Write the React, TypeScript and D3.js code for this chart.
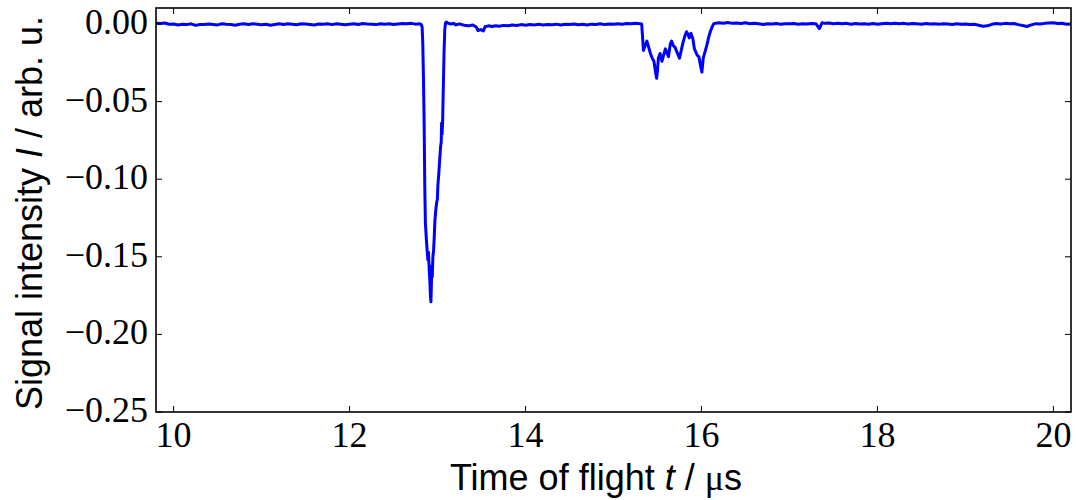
import React from 'react';
import * as d3 from 'd3';

type Pt = [number, number];

// Time of flight (µs), signal intensity (arb. u.)
const baselineBefore: Pt[] = [
  [9.80, 0.0005],[9.85, 0.0003],[9.90, 0.0006],[9.95, -0.0002],[10.00, 0.0000],[10.05, -0.0006],[10.10, -0.0002],[10.15, -0.0004],
  [10.20, 0.0001],[10.25, -0.0009],[10.30, -0.0003],[10.35, -0.0004],[10.40, 0.0000],[10.45, -0.0003],[10.50, -0.0006],[10.55, 0.0001],
  [10.60, -0.0002],[10.65, -0.0004],[10.70, -0.0008],[10.75, -0.0002],[10.80, 0.0001],[10.85, -0.0003],[10.90, 0.0002],[10.95, -0.0001],
  [11.00, -0.0005],[11.05, -0.0002],[11.10, -0.0008],[11.15, -0.0003],[11.20, 0.0002],[11.25, -0.0003],[11.30, 0.0001],[11.35, -0.0002],
  [11.40, -0.0005],[11.45, 0.0002],[11.50, 0.0000],[11.55, -0.0003],[11.60, -0.0007],[11.65, 0.0000],[11.70, -0.0002],[11.75, 0.0001],
  [11.80, -0.0004],[11.85, 0.0002],[11.90, -0.0001],[11.95, -0.0005],[12.00, -0.0002],[12.05, 0.0001],[12.10, -0.0003],[12.15, 0.0003],
  [12.20, 0.0000],[12.25, -0.0002],[12.30, -0.0004],[12.35, 0.0001],[12.40, -0.0001],[12.45, 0.0002],[12.50, -0.0003],[12.55, 0.0000],
  [12.60, 0.0003],[12.65, 0.0001],[12.70, 0.0004],[12.75, -0.0001],[12.80, 0.0002],
];

const mainPeak: Pt[] = [
  [12.815, -0.0003],[12.825, -0.002],[12.832, -0.012],[12.84, -0.035],[12.848, -0.065],[12.855, -0.105],[12.862, -0.128],
  [12.872, -0.138],[12.882, -0.146],[12.89, -0.152],[12.897, -0.147],[12.905, -0.158],[12.913, -0.166],[12.92, -0.176],
  [12.925, -0.179],[12.93, -0.168],[12.935, -0.156],[12.94, -0.163],[12.947, -0.150],[12.955, -0.146],[12.962, -0.138],
  [12.97, -0.127],[12.98, -0.120],[12.99, -0.115],[12.998, -0.113],[13.004, -0.104],[13.015, -0.096],[13.025, -0.087],
  [13.035, -0.079],[13.042, -0.076],[13.046, -0.064],[13.052, -0.071],[13.058, -0.062],[13.066, -0.040],[13.074, -0.018],
  [13.082, -0.004],[13.09, 0.0006],[13.10, 0.0012],
];

const betweenPeaks: Pt[] = [
  [13.12, 0.0006],[13.15, 0.0000],[13.18, 0.0004],[13.21, -0.0006],[13.25, 0.0001],[13.30, -0.0008],[13.35, -0.0012],[13.40, -0.0006],
  [13.44, -0.0020],[13.46, -0.0042],[13.49, -0.0036],[13.52, -0.0044],[13.54, -0.0018],[13.58, -0.0012],[13.62, -0.0016],[13.66, -0.0011],
  [13.70, -0.0014],[13.75, -0.0009],[13.80, -0.0012],[13.85, -0.0007],[13.90, -0.0010],[13.95, -0.0004],[14.00, -0.0008],[14.05, -0.0003],
  [14.10, -0.0006],[14.15, -0.0002],[14.20, -0.0007],[14.25, -0.0003],[14.30, -0.0005],[14.35, -0.0001],[14.40, -0.0006],[14.45, -0.0002],
  [14.50, -0.0004],[14.55, 0.0000],[14.60, -0.0005],[14.65, -0.0002],[14.70, -0.0006],[14.75, -0.0001],[14.80, -0.0003],[14.85, 0.0001],
  [14.90, -0.0004],[14.95, 0.0000],[15.00, -0.0002],[15.05, 0.0002],[15.10, -0.0001],[15.15, 0.0003],[15.20, 0.0001],[15.25, 0.0004],
  [15.30, 0.0002],
];

const secondPeak: Pt[] = [
  [15.32, 0.0000],[15.33, -0.008],[15.34, -0.017],[15.36, -0.014],[15.38, -0.011],[15.40, -0.015],[15.42, -0.019],[15.44, -0.022],
  [15.46, -0.024],[15.475, -0.030],[15.49, -0.035],[15.50, -0.030],[15.51, -0.022],[15.53, -0.019],[15.55, -0.024],[15.57, -0.020],
  [15.59, -0.016],[15.61, -0.019],[15.625, -0.021],[15.645, -0.013],[15.66, -0.011],[15.68, -0.014],[15.70, -0.015],[15.72, -0.018],
  [15.75, -0.022],[15.77, -0.017],[15.79, -0.012],[15.81, -0.008],[15.83, -0.005],[15.85, -0.007],[15.86, -0.009],[15.88, -0.006],
  [15.90, -0.009],[15.92, -0.016],[15.95, -0.020],[15.97, -0.021],[15.99, -0.027],[16.005, -0.031],[16.02, -0.022],[16.04, -0.018],
  [16.06, -0.014],[16.08, -0.009],[16.10, -0.005],[16.12, -0.002],[16.14, 0.0002],[16.16, 0.0005],
];

const baselineAfter: Pt[] = [
  [16.20, 0.0008],[16.25, 0.0005],[16.30, 0.0009],[16.35, 0.0004],[16.40, 0.0007],[16.45, 0.0003],[16.50, 0.0008],[16.55, 0.0002],
  [16.60, 0.0005],[16.65, 0.0001],[16.70, -0.0003],[16.75, 0.0002],[16.80, 0.0000],[16.85, 0.0003],[16.90, -0.0001],[16.95, 0.0002],
  [17.00, 0.0001],[17.05, 0.0003],[17.10, -0.0001],[17.15, 0.0002],[17.20, 0.0000],[17.25, 0.0003],[17.30, 0.0002],[17.34, -0.0030],
  [17.37, 0.0008],[17.40, 0.0004],[17.45, 0.0006],[17.50, 0.0002],[17.55, 0.0005],[17.60, 0.0001],[17.65, 0.0004],[17.70, -0.0002],
  [17.75, 0.0003],[17.80, 0.0000],[17.85, 0.0002],[17.90, -0.0001],[17.95, 0.0003],[18.00, -0.0002],[18.05, 0.0002],[18.10, 0.0004],
  [18.15, 0.0001],[18.20, 0.0005],[18.25, 0.0002],[18.30, 0.0004],[18.35, 0.0000],[18.40, 0.0003],[18.45, 0.0001],[18.50, -0.0001],
  [18.55, 0.0003],[18.60, 0.0000],[18.65, 0.0002],[18.70, -0.0001],[18.75, 0.0002],[18.80, 0.0000],[18.85, -0.0003],[18.90, 0.0001],
  [18.95, -0.0002],[19.00, 0.0000],[19.05, -0.0004],[19.10, -0.0002],[19.15, -0.0008],[19.20, -0.0014],[19.25, -0.0012],[19.30, -0.0002],
  [19.35, 0.0003],[19.40, 0.0000],[19.45, 0.0004],[19.50, 0.0001],[19.55, 0.0003],[19.60, -0.0004],[19.65, -0.0010],[19.70, -0.0016],
  [19.75, -0.0006],[19.80, 0.0002],[19.85, 0.0000],[19.90, 0.0004],[19.95, 0.0006],[20.00, 0.0008],[20.05, 0.0003],[20.10, 0.0005],
  [20.15, -0.0002],[20.20, 0.0000],
];

const xTicks = [10, 12, 14, 16, 18, 20];
const yTicks = [0, -0.05, -0.1, -0.15, -0.2, -0.25];
const xDomain: [number, number] = [9.8, 20.2];
const yDomain: [number, number] = [-0.25, 0.0103];

const W = 1076;
const H = 500;
const M = { left: 156, right: 1071, top: 8, bottom: 412 };
const TICK = 6;
const serif = '"Liberation Serif", "Times New Roman", serif';
const sans = '"Liberation Sans", Arial, Helvetica, sans-serif';

export default function App() {
  const data: Pt[] = [...baselineBefore, ...mainPeak, ...betweenPeaks, ...secondPeak, ...baselineAfter];
  const x = d3.scaleLinear().domain(xDomain).range([M.left, M.right]);
  const y = d3.scaleLinear().domain(yDomain).range([M.bottom, M.top]);
  const line = d3.line<Pt>().x(d => x(d[0])).y(d => y(d[1]));
  const fmtY = d3.format('.2f');

  return (
    <svg width={W} height={H} viewBox={`0 0 ${W} ${H}`} style={{ position: 'absolute', left: 0, top: 0, background: '#fff' }}>
      <defs>
        <clipPath id="plotclip">
          <rect x={M.left} y={M.top} width={M.right - M.left} height={M.bottom - M.top} />
        </clipPath>
      </defs>
      <rect x={0} y={0} width={W} height={H} fill="#fff" />
      <path d={line(data) || ''} fill="none" stroke="#0000ff" strokeWidth={3} strokeLinejoin="round" clipPath="url(#plotclip)" />
      {xTicks.map(t => (
        <g key={'x' + t}>
          <line x1={x(t)} x2={x(t)} y1={M.bottom} y2={M.bottom - TICK} stroke="#000" strokeWidth={1} />
          <line x1={x(t)} x2={x(t)} y1={M.top} y2={M.top + TICK} stroke="#000" strokeWidth={1} />
          <text x={x(t)} y={447} textAnchor="middle" fontFamily={serif} fontSize={36} fill="#000">{t}</text>
        </g>
      ))}
      {yTicks.map(t => (
        <g key={'y' + t}>
          <line x1={M.left} x2={M.left + TICK} y1={y(t)} y2={y(t)} stroke="#000" strokeWidth={1} />
          <line x1={M.right} x2={M.right - TICK} y1={y(t)} y2={y(t)} stroke="#000" strokeWidth={1} />
          <text x={148} y={y(t) + 10} textAnchor="end" fontFamily={serif} fontSize={36} fill="#000">{fmtY(t)}</text>
        </g>
      ))}
      <rect x={M.left} y={M.top} width={M.right - M.left} height={M.bottom - M.top} fill="none" stroke="#000" strokeWidth={1.6} />
      <text x={596} y={490} textAnchor="middle" fontFamily={sans} fontSize={36} fill="#000">
        Time of flight <tspan fontStyle="italic">t</tspan> / <tspan fontFamily={serif}>μ</tspan>s
      </text>
      <text transform="translate(42,213) rotate(-90)" textAnchor="middle" fontFamily={sans} fontSize={36} fill="#000">
        Signal intensity <tspan fontStyle="italic">I</tspan> / arb. u.
      </text>
    </svg>
  );
}
